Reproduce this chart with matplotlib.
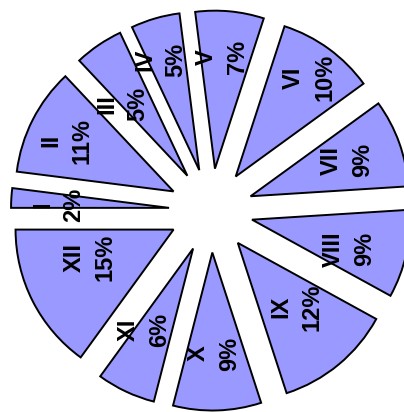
import numpy as np
import matplotlib
matplotlib.use("Agg")
import matplotlib.pyplot as plt

# ------------------- datos -------------------
nombres = ["I", "II", "III", "IV", "V", "VI", "VII", "VIII", "IX", "X", "XI", "XII"]
porcentajes = [2, 11, 5, 5, 7, 10, 9, 9, 12, 9, 6, 15]

# posicion de cada etiqueta: distancia (fraccion del radio) y giro respecto a la bisectriz (grados)
dist_etiqueta = [0.70, 0.75, 0.61, 0.74, 0.71, 0.78, 0.65, 0.64, 0.55, 0.64, 0.60, 0.56]
giro_etiqueta = [2, 1.7, 8, 3.4, 1.8, -0.7, 0.8, -4.4, 3, -0.8, -5.8, -8.4]

etiquetas = [f"{n}\n{p}%" for n, p in zip(nombres, porcentajes)]

# ------------------- figura -------------------
fig = plt.figure(figsize=(4.04, 4.12), dpi=100)
ax = fig.add_axes([0, 0, 1, 1])

cunas, textos = ax.pie(
    porcentajes,
    labels=etiquetas,
    startangle=180,
    counterclock=False,
    explode=[0.266] * len(porcentajes),
    colors=["#9999ff"] * len(porcentajes),
    wedgeprops=dict(edgecolor="black", linewidth=1.4),
    textprops=dict(rotation=90, ha="center", va="center", fontsize=17,
                   fontweight="bold", family="Liberation Sans",
                   linespacing=1.45, rotation_mode="anchor"),
)

for i, (w, t) in enumerate(zip(cunas, textos)):
    ang = np.deg2rad((w.theta1 + w.theta2) / 2 + giro_etiqueta[i])
    cx, cy = w.center
    d = dist_etiqueta[i] * w.r
    t.set_position((cx + d * np.cos(ang), cy + d * np.sin(ang)))
    # etiquetas recortadas a su propia cuna (la I es muy fina, se deja libre)
    if i > 0:
        t.set_clip_on(True)
        t.set_clip_path(w)

# 158 px por unidad de radio, centro en (211, 210.5) px
esc = 158.0
ax.set_aspect("auto")
ax.set_xlim(-211 / esc, (404 - 211) / esc)
ax.set_ylim(-(412 - 210.5) / esc, 210.5 / esc)
ax.axis("off")

fig.savefig("out.png", dpi=100)
